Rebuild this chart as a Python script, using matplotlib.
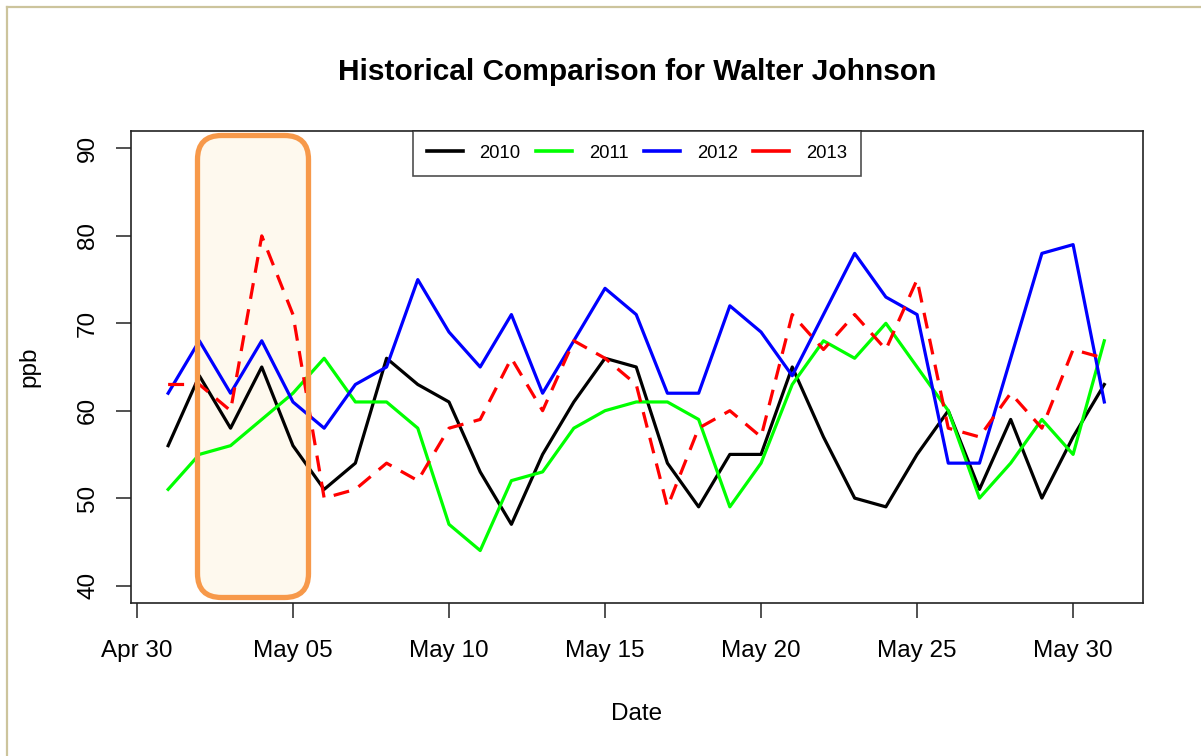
import numpy as np
import pandas as pd
import matplotlib
matplotlib.use("Agg")
import matplotlib.pyplot as plt
import matplotlib.dates as mdates
from matplotlib.patches import FancyBboxPatch
from matplotlib.lines import Line2D

plt.rcParams['font.family'] = ['Liberation Sans', 'DejaVu Sans']

# daily ozone readings, May 1 - May 31
dias = pd.date_range('2013-05-01', '2013-05-31', freq='D')
ticks_fecha = pd.date_range('2013-04-30', '2013-05-30', freq='5D')
ticks_ppb = [40, 50, 60, 70, 80, 90]

anios = ['2010', '2011', '2012', '2013']
colores = ['black', '#00FF00', '#0000FF', '#FF0000']

ppb_2010 = [56, 64, 58, 65, 56, 51, 54, 66, 63, 61, 53, 47, 55, 61, 66, 65,
            54, 49, 55, 55, 65, 57, 50, 49, 55, 60, 51, 59, 50, 57, 63]
ppb_2011 = [51, 55, 56, 59, 62, 66, 61, 61, 58, 47, 44, 52, 53, 58, 60, 61,
            61, 59, 49, 54, 63, 68, 66, 70, 65, 60, 50, 54, 59, 55, 68]
ppb_2012 = [62, 68, 62, 68, 61, 58, 63, 65, 75, 69, 65, 71, 62, 68, 74, 71,
            62, 62, 72, 69, 64, 71, 78, 73, 71, 54, 54, 66, 78, 79, 61]
ppb_2013 = [63, 63, 60, 80, 71, 50, 51, 54, 52, 58, 59, 66, 60, 68, 66, 63,
            49, 58, 60, 57, 71, 67, 71, 67, 75, 58, 57, 62, 58, 67, 66]
series = [ppb_2010, ppb_2011, ppb_2012, ppb_2013]

fig = plt.figure(figsize=(12.01, 7.56), dpi=100)
ax = fig.add_axes([131 / 1201, 1 - 603 / 756, 1012 / 1201, 472 / 756])

# highlighted window (first days of May)
ax_w, ax_h = 1012, 472
x0, x1 = 197.5, 308.5
y_top, y_bot = 135.5, 597.5
caja = dict(xy=((x0 - 131) / ax_w, (603 - y_bot) / ax_h),
            width=(x1 - x0) / ax_w, height=(y_bot - y_top) / ax_h,
            boxstyle='round,pad=0,rounding_size=%f' % (24 / ax_w),
            mutation_aspect=ax_w / ax_h, transform=ax.transAxes, clip_on=False)
ax.add_patch(FancyBboxPatch(**caja, facecolor='#FEF9EE', edgecolor='none', zorder=1))
ax.add_patch(FancyBboxPatch(**caja, facecolor='none', edgecolor='#F7994A',
                            linewidth=3.8, zorder=5))

for anio, col, vals in zip(anios, colores, series):
    if anio == '2013':
        ax.plot(dias, vals, color=col, lw=2.3, dashes=(5, 3.3), zorder=3)
    else:
        ax.plot(dias, vals, color=col, lw=2.3, zorder=3)

ax.set_xlim(pd.Timestamp('2013-04-30') - pd.Timedelta(days=0.19),
            pd.Timestamp('2013-04-30') + pd.Timedelta(days=32.24))
ax.set_ylim(38, 92)
ax.set_xticks(ticks_fecha)
ax.xaxis.set_major_formatter(mdates.DateFormatter('%b %d'))
ax.set_yticks(ticks_ppb)

ax.tick_params(axis='both', direction='out', length=11, width=1.1,
               labelsize=17.5, color='#222222')
ax.tick_params(axis='x', pad=16)
ax.tick_params(axis='y', pad=12, labelrotation=90)
for lab in ax.get_yticklabels():
    lab.set_va('center')
for s in ax.spines.values():
    s.set_linewidth(1.2)
    s.set_color('#222222')

ax.set_title('Historical Comparison for Walter Johnson', fontsize=21.5,
             fontweight='bold', pad=37)
ax.set_xlabel('Date', fontsize=17.5, labelpad=29)
ax.set_ylabel('ppb', fontsize=17.5, labelpad=26)

manijas = [Line2D([0], [0], color=c, lw=2.6) for c in colores]
leg = ax.legend(manijas, anios, loc='upper center', bbox_to_anchor=(0.5, 1.0),
                ncol=4, fontsize=13.3, frameon=True, fancybox=False,
                handlelength=1.95, handletextpad=0.9, columnspacing=0.85,
                borderpad=0.75, borderaxespad=0)
leg.get_frame().set_edgecolor('#222222')
leg.get_frame().set_linewidth(1.2)
leg.set_zorder(6)

# page border
borde = '#CCC49C'
fig.add_artist(Line2D([6.5 / 1201, 1], [1 - 6.5 / 756, 1 - 6.5 / 756],
                      color=borde, lw=1.6, transform=fig.transFigure))
fig.add_artist(Line2D([6.5 / 1201, 6.5 / 1201], [0, 1 - 6.5 / 756],
                      color=borde, lw=1.6, transform=fig.transFigure))

fig.savefig('out.png', dpi=100)
